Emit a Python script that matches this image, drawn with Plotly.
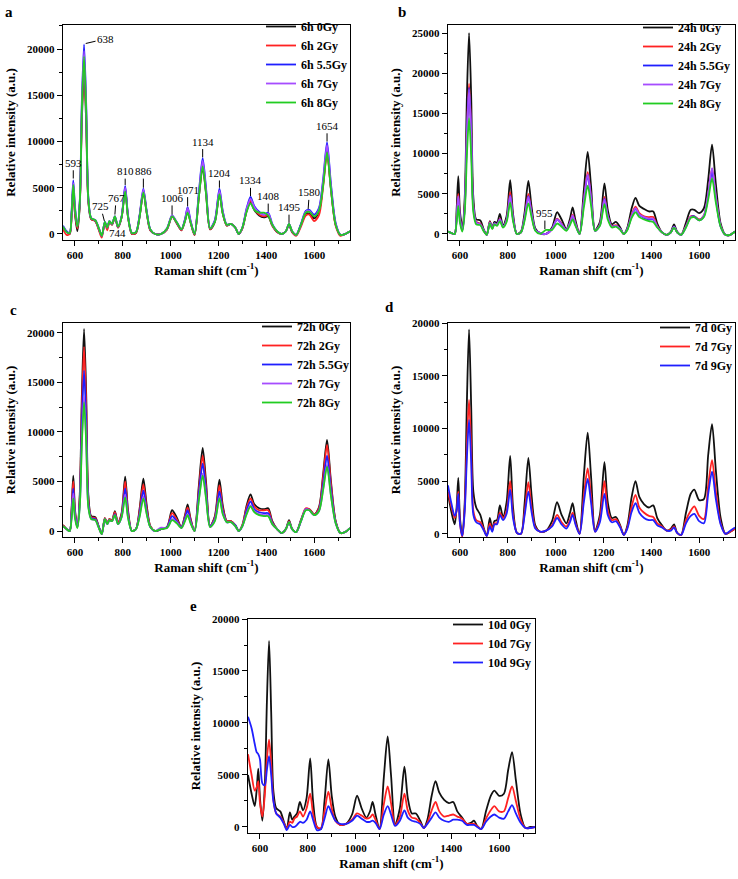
import plotly.graph_objects as go

# ---------------- data ----------------
raman_shift = [550,565,578,586,593,600,610,620,629,638,647,656,668,685,700,712,725,735,744,755,
               767,780,795,810,822,838,855,870,886,900,915,935,960,985,1006,1025,1045,1060,1071,1083,
               1100,1118,1134,1148,1165,1185,1204,1218,1235,1252,1270,1285,1300,1318,1334,1350,1370,1390,1408,1425,
               1445,1465,1482,1495,1508,1525,1545,1565,1580,1600,1620,1638,1654,1670,1690,1710,1730,1750]

# panel a: 6h
a_names = ["6h 0Gy", "6h 2Gy", "6h 5.5Gy", "6h 7Gy", "6h 8Gy"]
a_0gy = [700,200,0,2000,5000,2200,300,3000,12500,17500,
         12000,3500,1600,1400,500,-200,1200,600,1300,1000,
         1800,700,1800,4800,1800,0,100,1800,4500,2300,
         400,0,0,500,1900,1200,400,1400,2500,1300,
         -100,4000,7200,4400,500,1300,4300,2200,900,1100,
         700,0,600,2500,3500,2600,2000,1800,1900,900,
         200,0,300,1000,200,-100,1000,2200,2200,1700,
         2400,5500,9000,5000,1000,-100,0,300]
a_2gy = [500,-100,0,2000,5000,2300,600,3200,13200,18500,
         12700,3600,1600,1400,400,-400,1200,400,1300,1000,
         1800,700,1800,4900,1900,0,100,1900,4600,2300,
         400,0,0,500,1900,1200,400,1500,2600,1300,
         -100,4100,7500,4600,500,1400,4500,2300,900,1100,
         700,0,600,2600,3600,2700,2100,1900,2000,900,
         200,0,300,1000,200,-200,800,2000,2100,1400,
         2000,5200,8700,4900,900,-200,0,300]
a_55gy = [900,300,100,2500,5800,3000,900,3500,14500,20500,
          14000,4000,1700,1500,600,-200,1300,700,1400,1100,
          1900,800,1900,5200,2000,100,200,2000,4900,2500,
          500,0,0,600,2000,1300,500,1600,2900,1500,
          0,4500,8200,5000,600,1500,4900,2500,1000,1100,
          700,0,700,2800,4000,3000,2400,2100,2300,1100,
          300,0,300,1100,300,-100,1100,2500,2600,2100,
          2800,6000,9900,5500,1200,-100,0,300]
a_7gy = [800,200,100,2300,5500,2800,800,3400,14000,19800,
         13500,3800,1700,1500,600,-200,1300,700,1400,1100,
         1900,800,1900,5000,1900,100,200,1900,4800,2400,
         500,0,0,600,2000,1300,500,1500,2800,1400,
         0,4300,7900,4800,600,1400,4700,2400,1000,1100,
         700,0,700,2700,3800,2900,2300,2100,2200,1000,
         300,0,300,1100,300,-100,1000,2400,2500,1900,
         2600,5800,9600,5300,1100,-100,0,300]
a_8gy = [800,200,100,2200,5300,2700,800,3300,13600,19200,
         13200,3800,1700,1500,600,-200,1300,700,1400,1100,
         1900,800,1800,4600,1800,100,200,1800,4500,2300,
         500,0,0,600,1900,1300,500,1400,2300,1300,
         0,4000,7300,4400,600,1300,4300,2200,1000,1100,
         700,0,700,2400,3300,2600,2300,2300,2000,1000,
         300,0,300,1100,300,-100,1000,2300,2400,1900,
         2500,5300,8800,4900,1000,-100,0,300]

# panel b: 24h
b_names = ["24h 0Gy", "24h 2Gy", "24h 5.5Gy", "24h 7Gy", "24h 8Gy"]
b_0gy = [300,100,0,3000,7200,2800,900,4500,17000,25000,
         17000,4500,1800,1700,500,-100,1600,800,1500,1400,
         2500,1000,2200,6700,2500,0,300,2600,6600,3200,
         700,100,0,800,2700,1800,600,1900,3300,1700,
         0,5500,10200,6000,500,1500,6300,3000,1200,1500,
         800,0,800,3200,4500,3500,3100,2800,2800,1300,
         200,-100,300,1200,300,-100,1400,3000,3000,2600,
         3200,6800,11100,6200,1300,-100,-100,300]
b_2gy = [300,100,0,2100,5000,2000,500,3500,12800,18700,
         12800,3500,1500,1300,400,-100,1500,700,1300,1100,
         1900,900,1800,5200,2000,0,200,2000,5000,2500,
         500,100,0,600,1900,1300,500,1400,2400,1300,
         0,4200,7700,4600,400,1200,4600,2300,1000,1100,
         600,0,600,2400,3400,2600,2200,2100,2100,1000,
         200,-100,200,900,200,-100,1000,2200,2200,1800,
         2300,5000,8100,4600,1000,-100,-100,300]
b_55gy = [300,100,0,1900,4500,1800,400,3300,12400,18200,
          12400,3300,1400,1200,400,-100,1400,700,1300,1100,
          1800,900,1700,4800,1900,0,200,1900,4700,2400,
          500,100,0,600,1800,1200,500,1300,2200,1200,
          0,4000,7300,4400,400,1100,4400,2200,900,1000,
          600,0,600,2200,3100,2400,2000,1800,1800,900,
          200,-100,200,900,200,-100,900,2100,2200,1700,
          2200,4800,7700,4400,900,-100,-100,300]
b_7gy = [300,100,0,2000,4700,1900,500,3300,12300,18000,
         12300,3300,1400,1200,400,-100,1400,700,1300,1100,
         1800,900,1700,4700,1900,0,200,1900,4600,2400,
         500,100,0,600,1800,1200,500,1400,2300,1200,
         0,4100,7400,4500,400,1100,4300,2200,900,1000,
         600,0,600,2300,3200,2400,2100,1900,1900,900,
         200,-100,200,900,200,-100,900,2100,2100,1700,
         2300,5000,8200,4600,1000,-100,-100,300]
b_8gy = [300,100,0,1500,3500,1400,300,2700,9800,14400,
         9800,2700,1200,1100,300,-100,1300,600,1200,1000,
         1600,800,1500,3900,1600,0,200,1600,3800,2000,
         400,0,500,500,1300,900,400,1100,1800,1000,
         0,3300,6000,3600,400,1000,3700,1800,800,900,
         500,0,500,2000,2700,2100,1800,1600,1500,800,
         200,-100,200,800,200,-100,800,2000,2100,1700,
         2100,4300,6900,3900,900,-100,-100,300]

# panel c: 72h
c_names = ["72h 0Gy", "72h 2Gy", "72h 5.5Gy", "72h 7Gy", "72h 8Gy"]
c_0gy = [600,200,0,2300,5600,2200,400,3600,13800,20400,
         13800,3600,1500,1400,400,-300,1300,800,1200,1100,
         2000,800,1800,5500,2100,0,200,2200,5300,2600,
         500,0,200,400,2100,1400,400,1600,2700,1300,
         0,4600,8400,5000,500,1500,5200,2600,1000,1000,
         600,0,600,2600,3700,2700,2300,2200,2300,1000,
         200,-200,200,1100,200,-100,1100,2200,2200,1700,
         2400,5800,9200,5100,1000,-200,-100,300]
c_2gy = [600,200,0,2100,5000,2000,400,3300,12600,18600,
         12600,3300,1400,1300,400,-300,1300,800,1200,1100,
         1900,800,1700,5000,1900,0,200,2000,4700,2300,
         500,0,200,400,1800,1200,400,1500,2400,1200,
         0,4200,7600,4500,500,1400,4600,2300,1000,1000,
         600,0,600,2400,3300,2500,2100,2100,2100,900,
         200,-200,200,1000,200,-100,1100,2300,2200,1700,
         2300,5500,8700,4800,1000,-200,-100,300]
c_55gy = [500,200,0,1800,4300,1700,400,2900,11000,16200,
          11000,2900,1300,1200,400,-300,1200,700,1100,1000,
          1700,700,1500,4300,1600,0,200,1700,4100,2000,
          400,0,200,400,1500,1000,400,1300,2100,1000,
          0,3800,6800,4000,500,1200,4000,2000,900,900,
          600,0,500,2100,3000,2200,1900,1800,1800,800,
          200,-200,200,900,200,-100,1000,2200,2100,1600,
          2100,4800,7600,4200,900,-200,-100,300]
c_7gy = [500,200,0,1500,3800,1500,400,2500,9300,13600,
         9300,2500,1200,1100,300,-300,1200,700,1100,1000,
         1600,700,1400,3700,1400,0,200,1500,3500,1800,
         400,0,350,300,1200,900,300,1100,1700,900,
         0,3200,5800,3500,400,1100,3400,1800,900,900,
         500,0,500,1800,2600,2000,1700,1600,1600,700,
         200,-200,200,900,200,-100,1000,2200,2100,1600,
         2000,4300,6700,3700,800,-200,-100,300]
c_8gy = [500,200,0,1300,3300,1300,300,2400,8900,13000,
         8900,2400,1200,1100,300,-300,1200,700,1100,1000,
         1600,700,1400,3400,1300,0,200,1400,3300,1700,
         400,0,200,300,1100,800,300,1000,1600,800,
         0,3100,5600,3300,400,1000,3300,1700,900,900,
         500,0,500,1700,2500,1900,1600,1500,1500,700,
         200,-200,200,900,200,-100,1000,2100,2100,1600,
         2000,4200,6500,3600,800,-200,-100,300]

# panel d: 7d
d_names = ["7d 0Gy", "7d 7Gy", "7d 9Gy"]
d_0gy = [3800,2000,900,2500,5300,1500,-200,3000,12500,19400,
         12000,4000,2500,1800,500,-200,1500,400,1200,1300,
         2700,1600,3000,7400,2500,100,0,2800,7200,3500,
         800,200,300,1200,3000,1800,1000,2000,2900,1400,
         0,5500,9600,5500,300,1800,6800,3000,1500,1600,
         800,-100,800,3500,5000,3500,2800,2500,2700,1500,
         800,300,500,900,100,-100,2000,3800,4200,3200,
         3300,7500,10400,6000,1500,0,200,500]
d_7gy = [4000,2500,1500,2200,4000,1000,-300,2500,8500,12700,
         8000,2200,1300,1100,400,-200,1000,300,1000,1000,
         2000,1500,2200,5000,1800,100,0,2000,4900,2400,
         600,200,300,800,1800,1100,700,1300,2000,1000,
         0,3600,6200,3600,200,1400,5000,2200,1300,1400,
         700,-100,600,2600,3700,2500,2000,1700,1600,1000,
         700,300,400,700,100,-100,1300,2200,2600,1700,
         1400,4600,7000,4000,1000,0,200,500]
d_9gy = [4600,2800,1700,2200,3800,1000,-200,2200,7200,10800,
         6800,1800,1100,900,300,-200,700,200,900,900,
         1800,1300,1900,4200,1500,100,0,1700,4000,2000,
         500,200,300,700,1500,900,500,1100,1800,900,
         0,3000,5200,3000,200,1100,3800,1800,1100,1200,
         600,-100,500,2100,2900,2000,1500,1300,1300,800,
         600,300,300,600,100,-100,1000,1700,1900,1200,
         1000,3800,5900,3300,900,0,300,600]

# panel e: 10d
e_names = ["10d 0Gy", "10d 7Gy", "10d 9Gy"]
e_0gy = [5000,3200,2000,3500,5600,2800,600,3800,12000,17900,
         11000,3500,1800,1500,500,-200,1400,700,1000,1300,
         2400,1600,2800,6600,2500,0,-200,2500,6500,3000,
         1000,200,300,1200,3000,1800,900,1500,2400,1200,
         -200,4800,8700,5000,200,1800,5800,2800,1300,1300,
         600,-100,700,3000,4400,3300,2600,2300,2400,1500,
         900,300,400,600,100,-200,1500,3000,3500,3000,
         3200,5500,7200,4500,1200,-100,0,0]
e_7gy = [7000,5000,3500,3800,4400,2300,1000,3000,6500,8400,
         6000,2600,1300,1000,400,-200,500,400,800,1000,
         1500,1000,1800,3200,1300,0,-100,1500,3400,1800,
         600,200,300,700,1300,1100,800,900,1200,700,
         -200,2200,3900,2300,200,1000,3200,1600,900,800,
         400,-100,400,1600,2400,1500,1000,1100,1200,1000,
         800,300,300,300,100,-200,800,1600,2000,1500,
         1500,2800,3900,2500,700,-100,-100,0]
e_9gy = [10600,9500,8000,7200,7000,6500,4200,4000,5500,6800,
         5000,2500,1300,900,300,-300,200,0,0,200,
         500,400,700,1500,700,-300,-200,800,2000,1300,
         600,300,300,600,1100,800,500,500,600,400,
         -200,1200,2000,1200,100,600,1600,900,600,500,
         300,-100,300,900,1400,900,600,500,700,700,
         600,200,200,200,0,-200,500,1000,1200,900,
         800,1500,2100,1300,400,-100,-100,0]

# peak labels
a_peaks = ["593", "638", "725", "744", "767", "810", "886", "1006", "1071",
           "1134", "1204", "1334", "1408", "1495", "1580", "1654"]
a_peak_x = [593, 645, 723, 750, 767, 810, 886, 1006, 1071, 1134, 1204, 1334, 1408, 1495, 1575, 1654]
a_peak_y = [6000, 20600, 1400, 900, 2100, 5300, 5000, 2100, 3000, 8300, 5000, 4100, 2400, 1200, 2700, 10000]
a_label_x = [593, 728, 707, 778, 772, 810, 886, 1006, 1071, 1134, 1204, 1334, 1408, 1495, 1580, 1654]
a_label_y = [7700, 21100, 3000, 150, 3900, 6800, 6800, 3900, 4800, 10000, 6600, 5800, 4100, 2900, 4500, 11700]
b_peaks = ["955"]
b_peak_x = [955]
b_peak_y = [600]
b_label_x = [955]
b_label_y = [2600]

colors5 = ["#111111", "#ff2222", "#1f1fff", "#a64dff", "#22cc22"]
colors3 = ["#111111", "#ff2222", "#1f1fff"]

W, H = 738, 879
panels = [
    dict(names=a_names, series=[a_0gy, a_2gy, a_55gy, a_7gy, a_8gy], colors=colors5,
         xd=[63/W, 350/W], yd=[1-240/H, 1-25/H], yr=[-650, 22600], letter="a",
         lx=3/W, ly=1-2/H, legx=353/W, legy=1-12/H),
    dict(names=b_names, series=[b_0gy, b_2gy, b_55gy, b_7gy, b_8gy], colors=colors5,
         xd=[448/W, 735/W], yd=[1-240/H, 1-25/H], yr=[-750, 26000], letter="b",
         lx=396/W, ly=1-2/H, legx=736/W, legy=1-13/H),
    dict(names=c_names, series=[c_0gy, c_2gy, c_55gy, c_7gy, c_8gy], colors=colors5,
         xd=[63/W, 350/W], yd=[1-537/H, 1-323/H], yr=[-600, 21000], letter="c",
         lx=8/W, ly=1-300/H, legx=355/W, legy=1-312/H),
    dict(names=d_names, series=[d_0gy, d_7gy, d_9gy], colors=colors3,
         xd=[448/W, 735/W], yd=[1-537/H, 1-323/H], yr=[-300, 20000], letter="d",
         lx=383/W, ly=1-297/H, legx=1.0, legy=1-313/H),
    dict(names=e_names, series=[e_0gy, e_7gy, e_9gy], colors=colors3,
         xd=[248/W, 535/W], yd=[1-833/H, 1-619/H], yr=[-580, 20000], letter="e",
         lx=188/W, ly=1-596/H, legx=537/W, legy=1-610/H),
]

fig = go.Figure()
serif = "Liberation Serif"
layout = dict(width=W, height=H, margin=dict(l=0, r=0, t=0, b=0),
              paper_bgcolor="white", plot_bgcolor="white", showlegend=True)
annotations = []

for i, p in enumerate(panels):
    k = "" if i == 0 else str(i + 1)
    xa, ya = "x" + k, "y" + k
    leg = "legend" + k
    for name, ys, col in zip(p["names"], p["series"], p["colors"]):
        fig.add_trace(go.Scatter(x=raman_shift, y=ys, mode="lines", name=name,
                                 line=dict(color=col, width=1.8, shape="spline", smoothing=0.8),
                                 xaxis=xa, yaxis=ya, legend=leg))
    layout["xaxis" + k] = dict(
        domain=p["xd"], range=[550, 1750], anchor=ya, tick0=0, dtick=200, tickformat="d",
        ticks="outside", ticklen=5, tickwidth=1.2, tickcolor="black",
        minor=dict(dtick=100, ticks="outside", ticklen=3, tickcolor="black"),
        showline=True, linecolor="black", linewidth=1.4, mirror=True,
        showgrid=False, zeroline=False, automargin=False,
        tickfont=dict(family=serif, size=11, color="black", weight="bold"),
        title=dict(text="Raman shift (cm<sup>-1</sup>)", standoff=3,
                   font=dict(family=serif, size=13, color="black", weight="bold")))
    layout["yaxis" + k] = dict(
        domain=p["yd"], range=p["yr"], anchor=xa, tick0=0, dtick=5000, tickformat="d",
        ticks="outside", ticklen=5, tickwidth=1.2, tickcolor="black",
        minor=dict(dtick=2500, ticks="outside", ticklen=3, tickcolor="black"),
        showline=True, linecolor="black", linewidth=1.4, mirror=True,
        showgrid=False, zeroline=False, automargin=False,
        tickfont=dict(family=serif, size=11, color="black", weight="bold"),
        title=dict(text="Relative intensity (a.u.)", standoff=8,
                   font=dict(family=serif, size=13, color="black", weight="bold")))
    layout[leg] = dict(x=p["legx"], y=p["legy"], xanchor="right", yanchor="top",
                       bgcolor="rgba(0,0,0,0)", borderwidth=0,
                       font=dict(family=serif, size=12, color="black", weight="bold"),
                       itemwidth=30, tracegroupgap=0)
    annotations.append(dict(text=p["letter"], x=p["lx"], y=p["ly"], xref="paper", yref="paper",
                            xanchor="left", yanchor="top", showarrow=False,
                            font=dict(family=serif, size=15, color="black", weight="bold")))

def peak_notes(labels, px, py, lx, ly, xr, yr):
    out = []
    for t, x0, y0, x1, y1 in zip(labels, px, py, lx, ly):
        out.append(dict(text=t, x=x0, y=y0, ax=x1, ay=y1, xref=xr, yref=yr, axref=xr, ayref=yr,
                        showarrow=True, arrowhead=0, arrowwidth=1, arrowcolor="black",
                        font=dict(family=serif, size=11, color="black")))
    return out

annotations += peak_notes(a_peaks, a_peak_x, a_peak_y, a_label_x, a_label_y, "x", "y")
annotations += peak_notes(b_peaks, b_peak_x, b_peak_y, b_label_x, b_label_y, "x2", "y2")
layout["annotations"] = annotations
fig.update_layout(**layout)
fig.write_html("out.html", config={"displayModeBar": False},
               post_script="document.body.style.margin='0';document.body.style.overflow='hidden';")
